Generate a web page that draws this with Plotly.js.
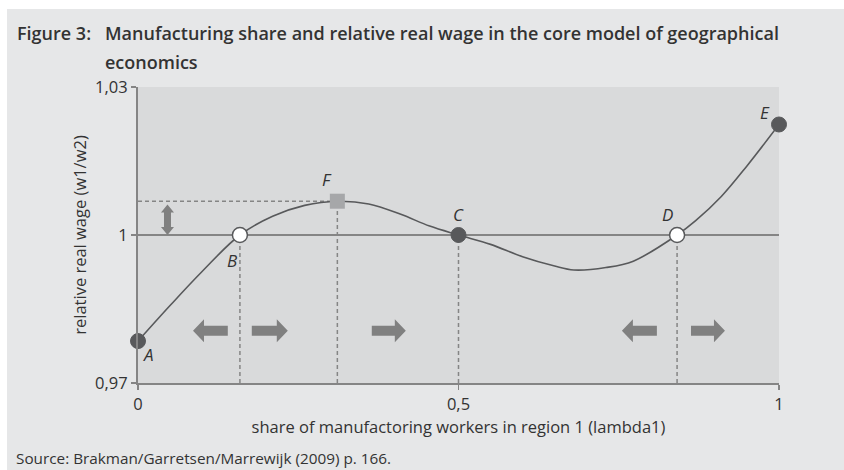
<!DOCTYPE html>
<html>
<head>
<meta charset="utf-8">
<script src="https://cdn.plot.ly/plotly-3.0.1.min.js"></script>
<style>
  html, body { margin: 0; padding: 0; background: #ffffff; width: 844px; height: 470px; overflow: hidden; }
  #chart { position: absolute; left: 7px; top: 9px; width: 837px; height: 461px; }
</style>
</head>
<body>
<div id="chart"></div>
<script>
// ---- data ----
const lambda1 = [0, 0.05, 0.10, 0.159, 0.21, 0.26, 0.311, 0.36, 0.41, 0.455, 0.5, 0.55, 0.60, 0.65, 0.68, 0.73, 0.7727, 0.841, 0.87, 0.91, 0.95, 1];
const relWage = [0.9785, 0.9857, 0.9926, 1.0, 1.0038, 1.0060, 1.00685, 1.0063, 1.0042, 1.0018, 1.0, 0.9981, 0.9956, 0.9937, 0.9929, 0.9934, 0.9947, 1.0, 1.0029, 1.0078, 1.0140, 1.0224];

const pointLabels = ['A', 'B', 'C', 'D', 'E', 'F'];
const pointX = [0, 0.159, 0.5, 0.841, 1, 0.311];
const pointY = [0.9785, 1.0, 1.0, 1.0, 1.0224, 1.00685];
const pointKind = ['stable', 'unstable', 'stable', 'unstable', 'stable', 'break'];

// block arrows: from -> to along lambda1, at a common wage level
const arrowFrom = [0.1401, 0.1775, 0.3647, 0.8095, 0.8627];
const arrowTo   = [0.0858, 0.2337, 0.4178, 0.7549, 0.9157];
const arrowLevel = 0.9806;
// double arrow between wage 1 and the break point level
const dblArrowX = 0.046;
const dblArrowY = [1.0, 1.0062];

const xTickVals = [0, 0.5, 1];
const xTickText = ['0', '0,5', '1'];
const yTickVals = [0.97, 1, 1.03];
const yTickText = ['0,97', '1', '1,03'];

const titleLead = 'Figure 3:';
const titleLine1 = 'Manufacturing share and relative real wage in the core model of geographical';
const titleLine2 = 'economics';
const xTitle = 'share of manufactoring workers in region 1 (lambda1)';
const yTitle = 'relative real wage (w1/w2)';
const sourceText = 'Source: Brakman/Garretsen/Marrewijk (2009) p. 166.';

// ---- layout geometry ----
const W = 837, H = 461, OX = 7, OY = 9;
const M = { l: 131, r: 65, t: 78, b: 87 };
const PW = W - M.l - M.r, PH = H - M.t - M.b;
const XR = [0, 1], YR = [0.97, 1.03];
const dx = (XR[1] - XR[0]) / PW;   // data per px
const dy = (YR[1] - YR[0]) / PH;
const px = pageX => (pageX - OX - M.l) / PW;
const py = pageY => 1 - (pageY - OY - M.t) / PH;

const textCol = '#333333';
const markCol = '#58595b';
const gridGray = '#858585';
const arrowCol = '#808080';

// ---- traces ----
const traces = [];
traces.push({
  x: lambda1, y: relWage, type: 'scatter', mode: 'lines',
  line: { color: markCol, width: 1.6, shape: 'spline', smoothing: 1 },
  hoverinfo: 'skip', showlegend: false, cliponaxis: false
});
const styleFor = k => {
  if (k === 'stable') return { symbol: 'circle', size: 15, color: markCol, line: { color: markCol, width: 1 } };
  if (k === 'unstable') return { symbol: 'circle', size: 15, color: '#ffffff', line: { color: markCol, width: 1.5 } };
  return { symbol: 'square', size: 15, color: '#a6a7a9', line: { color: '#a6a7a9', width: 0 } };
};
pointX.forEach((x, i) => {
  traces.push({
    x: [x], y: [pointY[i]], type: 'scatter', mode: 'markers',
    marker: styleFor(pointKind[i]), showlegend: false, cliponaxis: false, hoverinfo: 'skip'
  });
});

// ---- shapes ----
const shapes = [];
shapes.push({ type: 'line', xref: 'x', yref: 'y', x0: XR[0], x1: XR[1], y0: 1, y1: 1,
  line: { color: gridGray, width: 2 }, layer: 'below' });
pointX.forEach((x, i) => {
  if (x > 0 && x < 1) {
    shapes.push({ type: 'line', xref: 'x', yref: 'y', x0: x, x1: x, y0: YR[0], y1: pointY[i],
      line: { color: gridGray, width: 1.5, dash: '4px,3px' }, layer: 'below' });
  }
});
const fi = pointKind.indexOf('break');
shapes.push({ type: 'line', xref: 'x', yref: 'y', x0: XR[0], x1: pointX[fi], y0: pointY[fi], y1: pointY[fi],
  line: { color: gridGray, width: 1.5, dash: '4px,3px' }, layer: 'below' });

// block arrows
const hs = 5 * dy, hh = 11.5 * dy, hl = 11 * dx;
arrowFrom.forEach((x0, i) => {
  const x1 = arrowTo[i];
  const s = Math.sign(x1 - x0);
  const xb = x1 - s * hl;
  const yc = arrowLevel;
  const path = `M ${x0},${yc - hs} L ${xb},${yc - hs} L ${xb},${yc - hh} L ${x1},${yc} L ${xb},${yc + hh} L ${xb},${yc + hs} L ${x0},${yc + hs} Z`;
  shapes.push({ type: 'path', xref: 'x', yref: 'y', path, fillcolor: arrowCol, line: { width: 0 }, layer: 'above' });
});
// vertical double arrow
{
  const ws = 3.5 * dx, wh = 6.5 * dx, hL = 8 * dy;
  const x = dblArrowX, y0 = dblArrowY[0], y1 = dblArrowY[1];
  const path = `M ${x},${y1} L ${x + wh},${y1 - hL} L ${x + ws},${y1 - hL} L ${x + ws},${y0 + hL} L ${x + wh},${y0 + hL} L ${x},${y0} L ${x - wh},${y0 + hL} L ${x - ws},${y0 + hL} L ${x - ws},${y1 - hL} L ${x - wh},${y1 - hL} Z`;
  shapes.push({ type: 'path', xref: 'x', yref: 'y', path, fillcolor: arrowCol, line: { width: 0 }, layer: 'above' });
}

// ---- annotations ----
const labelShift = { A: [10, -13], B: [-8, -25], C: [0, 21], D: [-10, 21], E: [-14, 12], F: [-10, 22] };
const annotations = pointLabels.map((lab, i) => ({
  x: pointX[i], y: pointY[i], xref: 'x', yref: 'y', text: lab, showarrow: false,
  xshift: labelShift[lab][0], yshift: labelShift[lab][1],
  font: { family: 'Open Sans', size: 17, color: textCol, style: 'italic' }
}));
const titleFont = { family: 'Open Sans', size: 18, color: textCol, weight: 600 };
annotations.push({ xref: 'paper', yref: 'paper', x: px(15), y: py(33), xanchor: 'left', yanchor: 'middle',
  text: titleLead, showarrow: false, font: titleFont });
annotations.push({ xref: 'paper', yref: 'paper', x: px(103), y: py(33), xanchor: 'left', yanchor: 'middle',
  text: titleLine1, showarrow: false, font: titleFont });
annotations.push({ xref: 'paper', yref: 'paper', x: px(103), y: py(62), xanchor: 'left', yanchor: 'middle',
  text: titleLine2, showarrow: false, font: titleFont });
annotations.push({ xref: 'paper', yref: 'paper', x: px(14), y: py(458), xanchor: 'left', yanchor: 'middle',
  text: sourceText, showarrow: false, font: { family: 'Open Sans', size: 15.3, color: textCol } });

const axisFont = { family: 'Open Sans', size: 16.5, color: textCol };
const layout = {
  width: W, height: H,
  margin: M,
  paper_bgcolor: '#e6e7e8',
  plot_bgcolor: '#d9dadb',
  showlegend: false,
  xaxis: {
    range: XR, tickvals: xTickVals, ticktext: xTickText, showgrid: false, zeroline: false,
    showline: true, linecolor: gridGray, linewidth: 2, ticks: 'outside', ticklen: 5, tickwidth: 1.5, tickcolor: gridGray,
    tickfont: axisFont, fixedrange: true,
    title: { text: xTitle, font: axisFont, standoff: 3 }
  },
  yaxis: {
    range: YR, tickvals: yTickVals, ticktext: yTickText, showgrid: false, zeroline: false,
    showline: true, linecolor: gridGray, linewidth: 2, ticks: 'outside', ticklen: 5, tickwidth: 1.5, tickcolor: gridGray,
    tickfont: axisFont, fixedrange: true,
    title: { text: yTitle, font: axisFont, standoff: 4 }
  },
  shapes, annotations
};
Plotly.newPlot('chart', traces, layout, { displayModeBar: false, staticPlot: true });
</script>
</body>
</html>
